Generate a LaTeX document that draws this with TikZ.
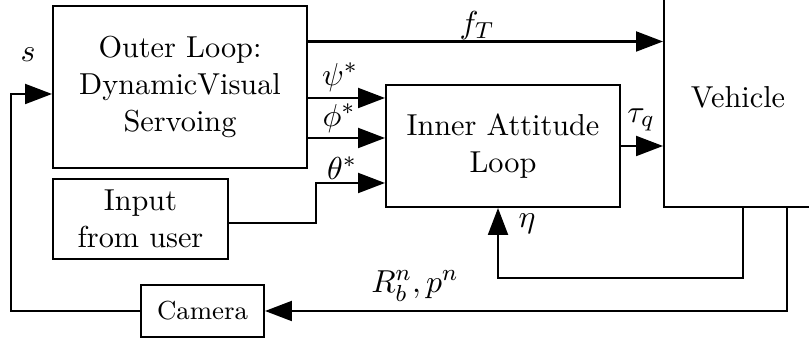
\documentclass[tikz,border=0pt]{standalone}
\usetikzlibrary{arrows.meta}
\def\pxu{0.345pt}
\begin{document}
\begin{tikzpicture}[x=0.345pt,y=-0.345pt,
  blk/.style={draw,line width=0.7pt,inner sep=0pt,align=center,font=\fontsize{10.45}{12.8}\selectfont},
  conn/.style={line width=0.7pt},
  arr/.style={conn,-{Triangle[length=9.3pt,width=6.9pt]}},
  lbl/.style={inner sep=0pt,font=\fontsize{11.4}{13}\selectfont}]
\useasboundingbox (0,0) rectangle (809,346);
\begin{scope}
\clip (0,0) rectangle (809,346);
\node[blk,minimum width={254*\pxu},minimum height={162*\pxu}] (outer) at (180,87) {Outer Loop:\\DynamicVisual\\Servoing};
\node[blk,minimum width={175*\pxu},minimum height={80*\pxu}] (input) at (140.5,219) {Input\\from user};
\node[blk,minimum width={123*\pxu},minimum height={52*\pxu},font=\small] (cam) at (202.5,311) {Camera};
\node[blk,minimum width={234*\pxu},minimum height={122*\pxu}] (inner) at (503,146) {Inner Attitude\\Loop};
\node[blk,minimum width={170*\pxu},minimum height={237*\pxu}] (veh) at (749,88.5) {};
\node[inner sep=0pt,font=\fontsize{10.45}{12.8}\selectfont] (vehtxt) at (738,97) {Vehicle};

\draw[arr] (outer.east |- 0,41.5) -- (veh.west |- 0,41.5);
\draw[arr] (outer.east |- 0,98) -- (inner.west |- 0,98);
\draw[arr] (outer.east |- 0,138) -- (inner.west |- 0,138);
\draw[arr] (input.east |- 0,223) -- (316,223) -- (316,183) -- (inner.west |- 0,183);
\draw[arr] (inner.east |- 0,146) -- (veh.west |- 0,146);
\draw[arr] (veh.south -| 743,0) -- (743,278) -- (498,278) -- (inner.south -| 498,0);
\draw[arr] (veh.south -| 787,0) -- (787,311) -- (cam.east);
\draw[arr] (cam.west) -- (11,311) -- (11,94) -- (outer.west |- 0,94);

\node[lbl] (lfT) at (477,26) {$f_T$};
\node[lbl] (lpsi) at (340,77) {$\psi^*$};
\node[lbl] (lphi) at (339,118) {$\phi^*$};
\node[lbl] (ltheta) at (342,168) {$\theta^*$};
\node[lbl] (ltau) at (641,120) {$\tau_q$};
\node[lbl] (leta) at (527,224) {$\eta$};
\node[lbl] (lR) at (415,286) {$R_b^n, p^n$};
\node[lbl] (ls) at (28,55) {$s$};
\end{scope}
\end{tikzpicture}
\end{document}
